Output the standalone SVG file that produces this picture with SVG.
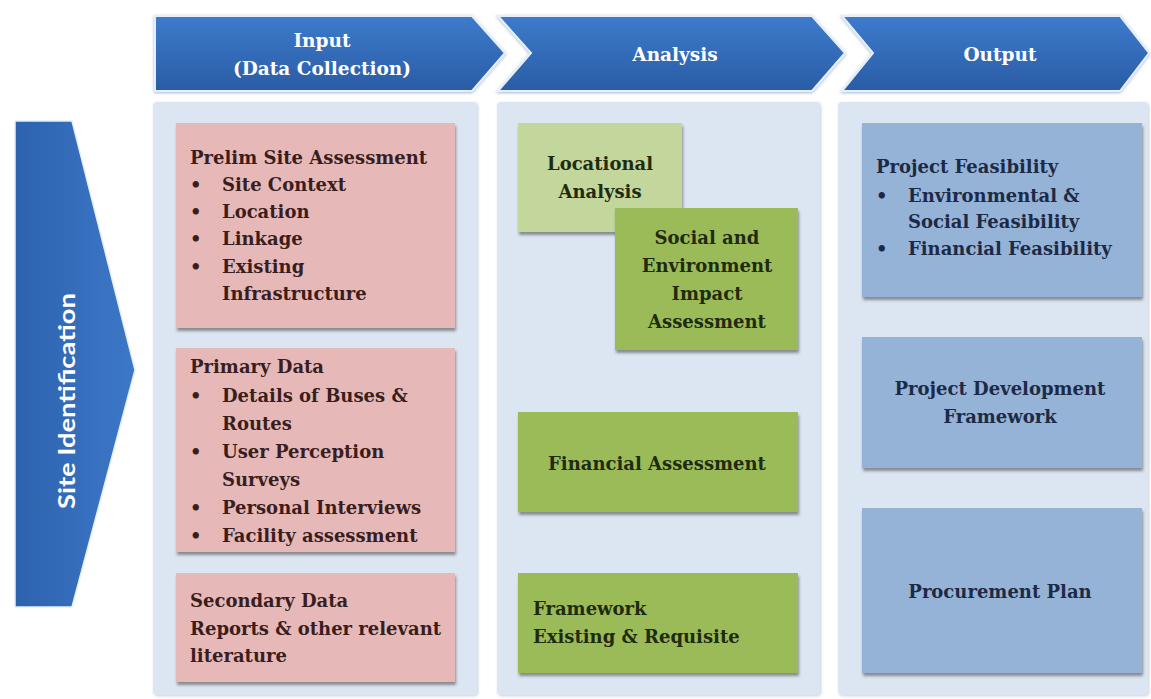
<svg xmlns="http://www.w3.org/2000/svg" width="1151" height="699" viewBox="0 0 1151 699">
  <defs>
    <linearGradient id="blueGrad" x1="0" y1="0" x2="0" y2="1">
      <stop offset="0" stop-color="#3d7bcc"/>
      <stop offset="1" stop-color="#2a5ca5"/>
    </linearGradient>
    <linearGradient id="sideGrad" x1="0" y1="0" x2="1" y2="0">
      <stop offset="0" stop-color="#2d62ae"/>
      <stop offset="1" stop-color="#3c78c8"/>
    </linearGradient>
    <filter id="boxShadow" x="-5%" y="-5%" width="112%" height="115%">
      <feDropShadow dx="1" dy="3" stdDeviation="1.8" flood-color="#404040" flood-opacity="0.55"/>
    </filter>
    <filter id="panelShadow" x="-5%" y="-5%" width="110%" height="110%">
      <feDropShadow dx="1" dy="1" stdDeviation="1.5" flood-color="#8090a8" flood-opacity="0.45"/>
    </filter>
    <filter id="headShadow" x="-5%" y="-10%" width="110%" height="125%">
      <feDropShadow dx="0" dy="1" stdDeviation="1.5" flood-color="#5070a0" flood-opacity="0.5"/>
    </filter>
  </defs>
  <style>
    .chev { fill: url(#blueGrad); stroke: #e6eef8; stroke-width: 2; filter: url(#headShadow); }
    .panel { fill: #dce6f2; filter: url(#panelShadow); }
    .pink { fill: #e6b9b8; filter: url(#boxShadow); }
    .lgreen { fill: #c3d69b; filter: url(#boxShadow); }
    .green { fill: #9bbb59; filter: url(#boxShadow); }
    .blue { fill: #95b3d7; filter: url(#boxShadow); }
    text { font-family: "DejaVu Serif", "Liberation Serif", serif; font-weight: bold; }
    .head { fill: #ffffff; font-size: 18.5px; text-anchor: middle; }
    .side { fill: #ffffff; font-size: 23px; text-anchor: middle; font-family: Lato, "Open Sans", "Liberation Sans", sans-serif; }
    .pt { fill: #3a1e1e; font-size: 18px; }
    .gt { fill: #1f2b10; font-size: 18px; }
    .bt { fill: #1d2a46; font-size: 18px; }
    .mid { text-anchor: middle; }
  </style>

  <rect width="1151" height="699" fill="#ffffff"/>

  <!-- column headers -->
  <g id="hdr-input">
    <polygon class="chev" points="155,16 472,16 505,53 472,91 155,91"/>
    <text class="head" x="322" y="47">Input</text>
    <text class="head" x="322" y="75">(Data Collection)</text>
  </g>
  <g id="hdr-analysis">
    <polygon class="chev" points="498,16 812,16 845,53 812,91 498,91 531,53"/>
    <text class="head" x="675" y="61">Analysis</text>
  </g>
  <g id="hdr-output">
    <polygon class="chev" points="842,16 1120,16 1149,53 1120,91 842,91 873,53"/>
    <text class="head" x="1000" y="61">Output</text>
  </g>

  <!-- stage arrow -->
  <g id="site-identification">
    <polygon points="15,121 72,121 135,370 72,607 15,607" fill="url(#sideGrad)" stroke="#e6eef8" stroke-width="1.5"/>
    <text class="side" transform="translate(75,401) rotate(-90)" textLength="216" lengthAdjust="spacingAndGlyphs">Site Identification</text>
  </g>

  <!-- column panels -->
  <rect id="panel-input" class="panel" x="153" y="102" width="324" height="593" rx="4"/>
  <rect id="panel-analysis" class="panel" x="497" y="102" width="323" height="593" rx="4"/>
  <rect id="panel-output" class="panel" x="838" y="102" width="310" height="593" rx="4"/>

  <!-- input boxes -->
  <g id="prelim-site">
    <rect class="pink" x="176" y="123" width="279" height="205"/>
    <text class="pt" x="190" y="164">Prelim Site Assessment</text>
    <text class="pt" x="190" y="191">•</text><text class="pt" x="222" y="191">Site Context</text>
    <text class="pt" x="190" y="218">•</text><text class="pt" x="222" y="218">Location</text>
    <text class="pt" x="190" y="245">•</text><text class="pt" x="222" y="245">Linkage</text>
    <text class="pt" x="190" y="273">•</text><text class="pt" x="222" y="273">Existing</text>
    <text class="pt" x="222" y="300">Infrastructure</text>
  </g>
  <g id="primary-data">
    <rect class="pink" x="176" y="348" width="279" height="204"/>
    <text class="pt" x="190" y="373">Primary Data</text>
    <text class="pt" x="190" y="402">•</text><text class="pt" x="222" y="402">Details of Buses &amp;</text>
    <text class="pt" x="222" y="430">Routes</text>
    <text class="pt" x="190" y="458">•</text><text class="pt" x="222" y="458">User Perception</text>
    <text class="pt" x="222" y="486">Surveys</text>
    <text class="pt" x="190" y="514">•</text><text class="pt" x="222" y="514">Personal Interviews</text>
    <text class="pt" x="190" y="542">•</text><text class="pt" x="222" y="542">Facility assessment</text>
  </g>
  <g id="secondary-data">
    <rect class="pink" x="176" y="573" width="279" height="109"/>
    <text class="pt" x="190" y="607">Secondary Data</text>
    <text class="pt" x="190" y="635">Reports &amp; other relevant</text>
    <text class="pt" x="190" y="662">literature</text>
  </g>

  <!-- analysis boxes -->
  <g id="locational-analysis">
    <rect class="lgreen" x="518" y="123" width="164" height="109"/>
    <text class="gt mid" x="600" y="170">Locational</text>
    <text class="gt mid" x="600" y="198">Analysis</text>
  </g>
  <g id="impact-assessment">
    <rect class="green" x="615" y="208" width="183" height="142"/>
    <text class="gt mid" x="707" y="244">Social and</text>
    <text class="gt mid" x="707" y="272">Environment</text>
    <text class="gt mid" x="707" y="300">Impact</text>
    <text class="gt mid" x="707" y="328">Assessment</text>
  </g>
  <g id="financial-assessment">
    <rect class="green" x="518" y="412" width="280" height="100"/>
    <text class="gt mid" x="657" y="470">Financial Assessment</text>
  </g>
  <g id="framework">
    <rect class="green" x="518" y="573" width="280" height="100"/>
    <text class="gt" x="533" y="615">Framework</text>
    <text class="gt" x="533" y="643">Existing &amp; Requisite</text>
  </g>

  <!-- output boxes -->
  <g id="project-feasibility">
    <rect class="blue" x="862" y="123" width="280" height="174"/>
    <text class="bt" x="876" y="173">Project Feasibility</text>
    <text class="bt" x="876" y="202">•</text><text class="bt" x="908" y="202">Environmental &amp;</text>
    <text class="bt" x="908" y="228">Social Feasibility</text>
    <text class="bt" x="876" y="255">•</text><text class="bt" x="908" y="255">Financial Feasibility</text>
  </g>
  <g id="project-development">
    <rect class="blue" x="862" y="337" width="280" height="131"/>
    <text class="bt mid" x="1000" y="395">Project Development</text>
    <text class="bt mid" x="1000" y="423">Framework</text>
  </g>
  <g id="procurement-plan">
    <rect class="blue" x="862" y="508" width="280" height="165"/>
    <text class="bt mid" x="1000" y="598">Procurement Plan</text>
  </g>

  <!-- connectors: none drawn, stages are linked by the chevron shapes -->
  <g id="connectors"></g>
</svg>
